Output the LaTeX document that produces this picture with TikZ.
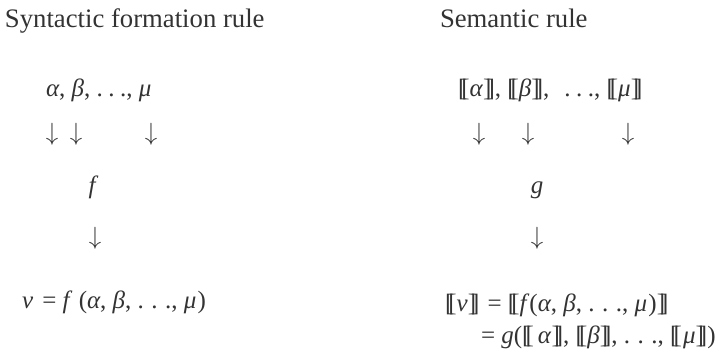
\documentclass[tikz,border=0pt]{standalone}
\usepackage{fontspec}
\setmainfont{Liberation Serif}
\definecolor{txt}{HTML}{333333}
\newcommand{\el}{.\kern.22em.\kern.22em.}
\newcommand{\elw}{.\kern.3em.\kern.3em.}
\newcommand{\lbk}{[\kern-.2em[}
\newcommand{\rbk}{]\kern-.2em]}
\newcommand{\semb}[1]{\lbk#1\rbk}
\begin{document}
\begin{tikzpicture}[x=1pt,y=1pt,
  every node/.style={inner sep=0pt, outer sep=0pt, text=txt},
  title/.style={font=\fontsize{26.7}{30}\selectfont, anchor=base west},
  formula/.style={font=\fontsize{25}{28}\selectfont, anchor=base west},
  arrowglyph/.style={font=\fontsize{25}{28}\selectfont, anchor=center},
  fname/.style={font=\fontsize{25}{28}\selectfont\itshape, anchor=base}]
\useasboundingbox (0,0) rectangle (723,351);
% titles
\node[title] (tsyn) at (5,323) {Syntactic formation rule};
\node[title] (tsem) at (440,323) {Semantic rule};
% left column
\node[formula] (largs) at (46,254) {\textit{α}, \textit{β}, \el, \textit{μ}};
\node[arrowglyph] (la1) at (52,217) {$\downarrow$};
\node[arrowglyph] (la2) at (76,217) {$\downarrow$};
\node[arrowglyph] (la3) at (151,217) {$\downarrow$};
\node[fname] (lf) at (92,157) {f};
\node[arrowglyph] (la4) at (95,113) {$\downarrow$};
\node[formula] (lres) at (22,42) {\textit{ν}\hspace{.12em} = \textit{f}\hspace{.25em}(\textit{α}, \textit{β}, \elw, \textit{μ}\hspace{.05em})};
% right column
\node[formula] (rargs) at (458,254) {\semb{\textit{α}}, \semb{\textit{β}},\hspace{.6em}\el, \semb{\textit{μ}}};
\node[arrowglyph] (ra1) at (479,217) {$\downarrow$};
\node[arrowglyph] (ra2) at (528,217) {$\downarrow$};
\node[arrowglyph] (ra3) at (628,217) {$\downarrow$};
\node[fname] (rg) at (537,157) {g};
\node[arrowglyph] (ra4) at (537,113) {$\downarrow$};
\node[formula] (rres1) at (445,40) {\semb{\textit{ν}}\hspace{.08em} = \semb{\textit{f}(\textit{α}, \textit{β}, \elw, \textit{μ}\hspace{.05em})}};
\node[formula] (rres2) at (481,8) {= \textit{g}(\semb{\,\textit{α}}, \semb{\textit{β}}, \elw, \semb{\hspace{.05em}\textit{μ}})};
\end{tikzpicture}
\end{document}
